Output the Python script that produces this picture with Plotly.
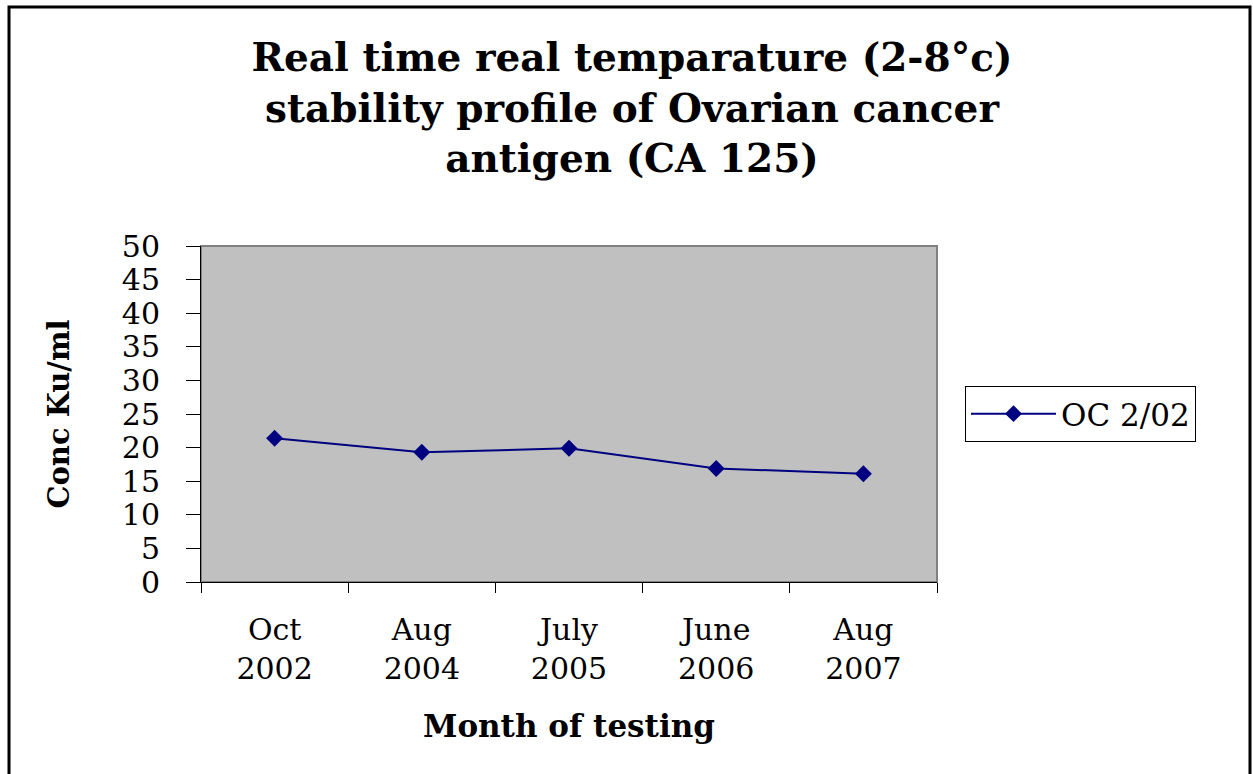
import plotly.graph_objects as go

months = ["Oct<br>2002", "Aug<br>2004", "July<br>2005", "June<br>2006", "Aug<br>2007"]
oc_2_02 = [21.4, 19.3, 19.9, 16.9, 16.1]
y_ticks = [0, 5, 10, 15, 20, 25, 30, 35, 40, 45, 50]

FONT = "DejaVu Serif"
L, R, T, B = 201, 316, 246, 192
W, H = 1253, 774
pw, ph = W - L - R, H - T - B

def px(x):
    return (x - L) / pw

def py(y):
    return (H - B - y) / ph

fig = go.Figure()
fig.add_trace(go.Scatter(
    x=months, y=oc_2_02, mode="lines+markers", name="OC 2/02",
    line=dict(color="#000080", width=2),
    marker=dict(symbol="diamond", size=13, color="#000080"),
))

fig.update_layout(
    width=W, height=H,
    margin=dict(l=L, r=R, t=T, b=B),
    paper_bgcolor="white",
    plot_bgcolor="#C0C0C0",
    font=dict(family=FONT, color="black"),
    title=dict(
        text="<b>Real time real temparature (2-8°c)<br>stability profile of Ovarian cancer<br>antigen (CA 125)</b>",
        x=632 / W, xanchor="center", y=1 - 71 / H, yanchor="top",
        font=dict(family=FONT, size=39, color="black"),
    ),
    showlegend=True,
    legend=dict(
        x=px(965), xanchor="left", y=py(414), yanchor="middle",
        bordercolor="black", borderwidth=1, bgcolor="white",
        font=dict(family=FONT, size=31, color="black"),
        itemwidth=85, entrywidth=170, entrywidthmode="pixels",
    ),
    xaxis=dict(
        type="category", tickson="boundaries", range=[-0.5, 4.5],
        showline=True, linecolor="black", linewidth=1,
        ticks="outside", ticklen=10, tickcolor="black",
        ticklabelstandoff=21,
        tickfont=dict(family=FONT, size=30, color="black"),
        showgrid=False, zeroline=False,
        title=dict(text="<b>Month of testing</b>", standoff=30,
                   font=dict(family=FONT, size=31, color="black")),
    ),
    yaxis=dict(
        range=[0, 50], tickvals=y_ticks,
        showline=True, linecolor="black", linewidth=1,
        ticks="outside", ticklen=14, tickcolor="black",
        ticklabelstandoff=20,
        tickfont=dict(family=FONT, size=30, color="black"),
        showgrid=False, zeroline=False,
        title=dict(text="<b>Conc Ku/ml</b>", standoff=43,
                   font=dict(family=FONT, size=29, color="black")),
    ),
    shapes=[
        dict(type="rect", xref="paper", yref="paper", x0=0, x1=1, y0=0, y1=1,
             line=dict(color="#808080", width=2), layer="below"),
        dict(type="rect", xref="paper", yref="paper",
             x0=px(9), x1=px(1250), y0=py(7), y1=py(800),
             line=dict(color="black", width=3), fillcolor="rgba(0,0,0,0)"),
    ],
)

fig.write_html("out.html", config={"displayModeBar": False},
               post_script="document.body.style.margin='0';document.body.style.overflow='hidden';")
